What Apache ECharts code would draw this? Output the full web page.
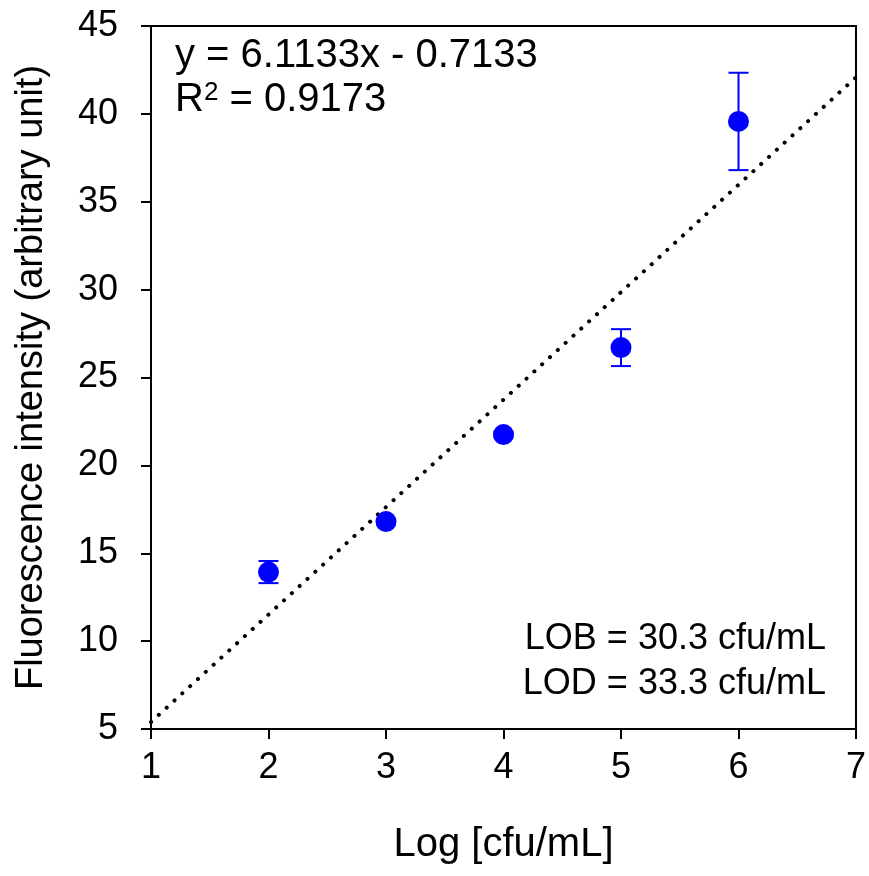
<!DOCTYPE html>
<html>
<head>
<meta charset="utf-8">
<script src="https://cdn.jsdelivr.net/npm/echarts@6/dist/echarts.min.js"></script>
<style>
    html, body { margin: 0; padding: 0; background: #fff; }
    #chart { width: 869px; height: 876px; }
</style>
</head>
<body>
<div id="chart"></div>
<script>
// measured points (log cfu/mL vs fluorescence)
var logConc = [2, 3, 4, 5, 6];
var intensity = [13.93, 16.8, 21.75, 26.7, 39.57];
var errors = [0.63, 0.15, 0.15, 1.05, 2.77];

// linear fit y = 6.1133x - 0.7133, drawn across the axis
var fitX = [1, 7];
var fitY = [5.4, 42.08];

var yTicks = [5, 45, 5];   // min, max, interval
var xTicks = [1, 7, 1];

var pointData = logConc.map(function (x, i) { return [x, intensity[i]]; });
var errData = logConc.map(function (x, i) { return [x, intensity[i] - errors[i], intensity[i] + errors[i]]; });
var fitData = fitX.map(function (x, i) { return [x, fitY[i]]; });

var font = '"Liberation Sans", Arial, sans-serif';
var blue = '#0000ff';

var chart = echarts.init(document.getElementById('chart'));
var option = {
    backgroundColor: '#fff',
    animation: false,
    grid: {
        left: 151,
        top: 26,
        right: 13,
        bottom: 147,
        show: true,
        borderColor: '#000',
        borderWidth: 2,
        backgroundColor: 'transparent'
    },
    xAxis: {
        type: 'value',
        min: xTicks[0],
        max: xTicks[1],
        interval: xTicks[2],
        name: 'Log [cfu/mL]',
        nameLocation: 'middle',
        nameGap: 96,
        nameTextStyle: { color: '#000', fontSize: 40, fontFamily: font },
        axisLine: { show: true, lineStyle: { color: '#000', width: 2 } },
        axisTick: { show: true, inside: false, length: 10, lineStyle: { color: '#000', width: 2 } },
        axisLabel: { color: '#000', fontSize: 36, fontFamily: font, margin: 21 },
        splitLine: { show: false }
    },
    yAxis: {
        type: 'value',
        min: yTicks[0],
        max: yTicks[1],
        interval: yTicks[2],
        name: 'Fluorescence intensity (arbitrary unit)',
        nameLocation: 'middle',
        nameGap: 100,
        nameTextStyle: { color: '#000', fontSize: 38, fontFamily: font },
        axisLine: { show: true, lineStyle: { color: '#000', width: 2 } },
        axisTick: { show: true, inside: false, length: 10, lineStyle: { color: '#000', width: 2 } },
        axisLabel: { color: '#000', fontSize: 36, fontFamily: font, margin: 33 },
        splitLine: { show: false }
    },
    series: [
        {
            name: 'fit',
            type: 'line',
            data: fitData,
            symbol: 'none',
            lineStyle: { color: '#000', width: 4, type: [0.1, 10.5], cap: 'round' },
            z: 1
        },
        {
            name: 'error',
            type: 'custom',
            data: errData,
            renderItem: function (params, api) {
                var x = api.value(0);
                var lo = api.coord([x, api.value(1)]);
                var hi = api.coord([x, api.value(2)]);
                var half = 10;
                var style = { stroke: blue, lineWidth: 2 };
                return {
                    type: 'group',
                    children: [
                        { type: 'line', shape: { x1: lo[0], y1: lo[1], x2: hi[0], y2: hi[1] }, style: style },
                        { type: 'line', shape: { x1: lo[0] - half, y1: lo[1], x2: lo[0] + half, y2: lo[1] }, style: style },
                        { type: 'line', shape: { x1: hi[0] - half, y1: hi[1], x2: hi[0] + half, y2: hi[1] }, style: style }
                    ]
                };
            },
            z: 2
        },
        {
            name: 'points',
            type: 'scatter',
            data: pointData,
            symbol: 'circle',
            symbolSize: 21,
            itemStyle: { color: blue, opacity: 1 },
            z: 3
        }
    ],
    graphic: [
        {
            type: 'text',
            left: 175,
            top: 36,
            style: {
                text: 'y = 6.1133x - 0.7133',
                fill: '#000',
                font: '40px ' + font
            }
        },
        {
            type: 'text',
            left: 175,
            top: 80,
            style: {
                text: 'R{sup|2} = 0.9173',
                fill: '#000',
                font: '40px ' + font,
                rich: {
                    sup: { fontSize: 26, fontFamily: font, fill: '#000', verticalAlign: 'top', padding: [0, 0, 14, 0] }
                }
            }
        },
        {
            type: 'text',
            right: 43,
            top: 621,
            style: {
                text: 'LOB = 30.3 cfu/mL',
                fill: '#000',
                font: '36px ' + font,
                align: 'right'
            }
        },
        {
            type: 'text',
            right: 43,
            top: 666,
            style: {
                text: 'LOD = 33.3 cfu/mL',
                fill: '#000',
                font: '36px ' + font,
                align: 'right'
            }
        }
    ]
};
chart.setOption(option);
</script>
</body>
</html>
